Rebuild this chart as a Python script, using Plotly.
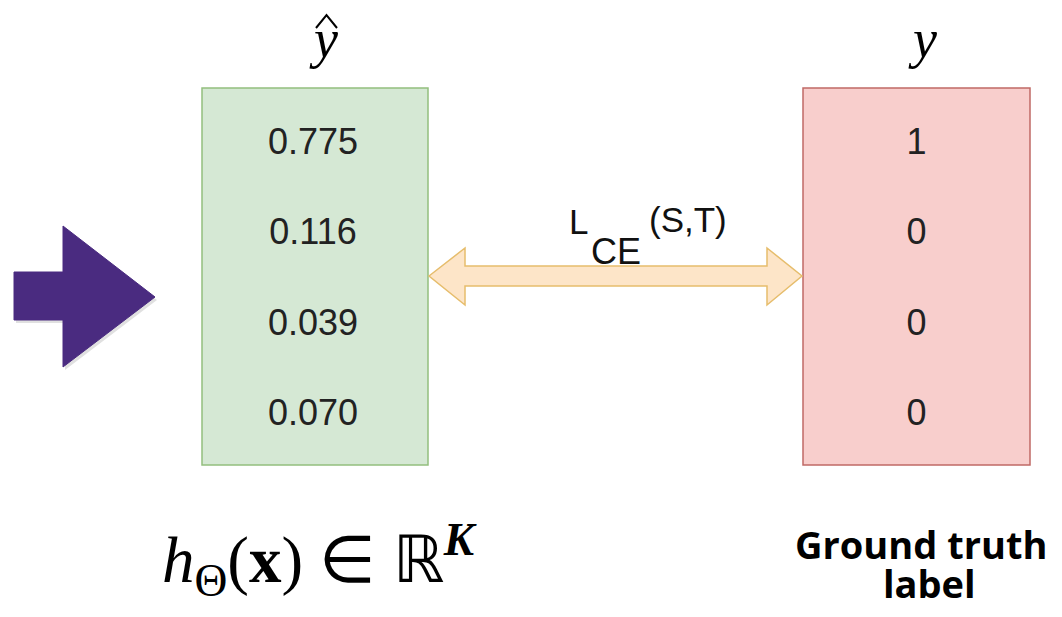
import plotly.graph_objects as go

# ---- data ----
pred_probs = [0.775, 0.116, 0.039, 0.070]
truth_labels = [1, 0, 0, 0]
pred_symbol = "y"
truth_symbol = "y"
loss_label = ["L", "CE", "(S,T)"]
formula_label = "<i>h</i><sub>Θ</sub>(<b>x</b>) ∈ ℝ<sup><i><b>K</b></i></sup>"
gt_label = ["Ground truth", "label"]

# ---- layout geometry (pixel space) ----
W, H = 1062, 617
green_box = (202, 88, 428, 465)
red_box = (803, 88, 1030, 465)
row0, row_step = 145, 90.3

fig = go.Figure()

# boxes
fig.add_shape(type="rect", x0=green_box[0], y0=green_box[1], x1=green_box[2], y1=green_box[3],
              fillcolor="#d5e8d4", line=dict(color="#93bf7e", width=1.5), layer="below")
fig.add_shape(type="rect", x0=red_box[0], y0=red_box[1], x1=red_box[2], y1=red_box[3],
              fillcolor="#f8cecc", line=dict(color="#c06a66", width=1.5), layer="below")

# purple arrow (with faint shadow)
arrow = "M14,272 L63,272 L63,226 L155,297 L63,367 L63,320 L14,320 Z"
shadow = "M16,275 L65,275 L65,229 L157,300 L65,370 L65,323 L16,323 Z"
fig.add_shape(type="path", path=shadow, fillcolor="rgba(0,0,0,0.12)", line=dict(width=0), layer="below")
fig.add_shape(type="path", path=arrow, fillcolor="#4a2b80", line=dict(color="#4a2b80", width=1), layer="below")

# double-headed arrow
darrow = ("M429,276 L465,248 L465,266 L767,266 L767,248 L802,276 "
          "L767,305 L767,286 L465,286 L465,305 Z")
fig.add_shape(type="path", path=darrow, fillcolor="#fde5c8",
              line=dict(color="#e6bd6c", width=1.5), layer="below")

# hat accent over y
fig.add_shape(type="path", path="M316,28 L326.5,15 L337,28", fillcolor="rgba(0,0,0,0)",
              line=dict(color="black", width=2))

# numbers
gx = (green_box[0] + green_box[2]) / 2 - 2
rx = (red_box[0] + red_box[2]) / 2
ys = [row0 + i * row_step for i in range(len(pred_probs))]
fig.add_trace(go.Scatter(x=[gx] * len(pred_probs), y=ys, mode="text",
                         text=[f"{v:.3f}" for v in pred_probs],
                         textfont=dict(family="Liberation Sans, Arial", size=36, color="#222222"),
                         hoverinfo="skip", showlegend=False))
fig.add_trace(go.Scatter(x=[rx] * len(truth_labels), y=ys, mode="text",
                         text=[str(v) for v in truth_labels],
                         textfont=dict(family="Liberation Sans, Arial", size=36, color="#222222"),
                         hoverinfo="skip", showlegend=False))

serif = "Liberation Serif, Times New Roman, serif"
sans = "Liberation Sans, Arial"
ann = []
# y-hat and y
ann.append(dict(x=323, y=39, text=f"<i>{pred_symbol}</i>", font=dict(family=serif, size=54, color="black")))
ann.append(dict(x=922, y=39, text=f"<i>{truth_symbol}</i>", font=dict(family=serif, size=54, color="black")))
# loss label
ann.append(dict(x=578, y=221, text=loss_label[0], font=dict(family=sans, size=35, color="#111111")))
ann.append(dict(x=616, y=251, text=loss_label[1], font=dict(family=sans, size=36, color="#111111")))
ann.append(dict(x=688, y=219, text=loss_label[2], font=dict(family=sans, size=35, color="#111111")))
# formula
ann.append(dict(x=319, y=560, text=formula_label, font=dict(family=serif, size=65, color="black")))
# ground truth
ann.append(dict(x=921, y=544, text=gt_label[0], font=dict(family="Open Sans", size=38, color="black")))
ann.append(dict(x=929, y=583, text=gt_label[1], font=dict(family="Open Sans", size=38, color="black")))

for a in ann:
    a.update(xref="x", yref="y", showarrow=False, xanchor="center", yanchor="middle")
for a in ann[-2:]:
    a["text"] = f"<b>{a['text']}</b>"

fig.update_layout(
    width=W, height=H, margin=dict(l=0, r=0, t=0, b=0),
    paper_bgcolor="white", plot_bgcolor="white",
    xaxis=dict(range=[0, W], visible=False, fixedrange=True),
    yaxis=dict(range=[H, 0], visible=False, fixedrange=True),
    annotations=ann, showlegend=False,
)
fig.write_html("out.html", config={"displayModeBar": False},
               post_script="document.body.style.margin='0';document.body.style.overflow='hidden';")
